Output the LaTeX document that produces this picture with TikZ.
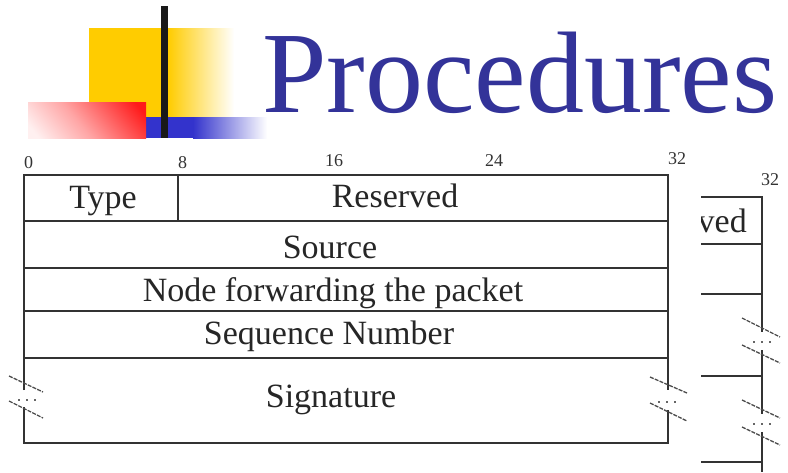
\documentclass[tikz,border=0pt]{standalone}
\usepackage{fontspec}
\setmainfont{Liberation Serif}
\definecolor{titleblue}{RGB}{51,51,153}
\definecolor{logoyellow}{RGB}{255,204,0}
\definecolor{logoblue}{RGB}{51,51,204}
\definecolor{logored}{RGB}{255,26,26}
\colorlet{logopink}{red!6}
\pgfdeclarehorizontalshading{redfade}{100bp}{color(0bp)=(logopink); color(20bp)=(logopink);
  color(45bp)=(red!35); color(80bp)=(logored); color(100bp)=(logored)}
\begin{document}
\begin{tikzpicture}[x=1pt,y=-1pt,
  rule/.style={draw=black!80, line width=1.8pt},
  field/.style={inner sep=0pt, anchor=base, text=black!85, font=\fontsize{34}{40}\selectfont},
  bitno/.style={inner sep=0pt, anchor=base west, text=black!80, font=\fontsize{18}{20}\selectfont},
  slash/.style={draw=black!70, line width=1.3pt, dash pattern=on 4pt off 1.2pt},
  dotrow/.style={draw=black!60, line width=2pt, dash pattern=on 2pt off 6pt}]
\useasboundingbox (0,0) rectangle (788,472);
\fill[white] (0,0) rectangle (788,472);

% ---- title logo ----
\fill[logoyellow] (89,28) rectangle (168,117);
\shade[left color=logoyellow, right color=white] (168,28) rectangle (234,117);
\fill[logoblue] (146,117) rectangle (193,138);
\shade[left color=logoblue, right color=white] (193,117) rectangle (267,138);
\shade[shading=redfade, shading angle=40] (28,102) rectangle (146,138);
\fill[black!90] (161,6) rectangle (168,138);

\node[inner sep=0pt, anchor=base west, text=titleblue, font=\fontsize{116}{120}\selectfont]
  (title) at (262,112) {Procedures};

% ---- bit positions ----
\node[bitno] (b0)  at (24,168)  {0};
\node[bitno] (b8)  at (178,168) {8};
\node[bitno] (b16) at (325,166) {16};
\node[bitno] (b24) at (485,166) {24};
\node[bitno] (b32) at (668,164) {32};

% ---- main packet layout ----
\draw[rule] (24,390) -- (24,175) -- (668,175) -- (668,390);
\draw[rule] (24,407) -- (24,443) -- (668,443) -- (668,410);
\foreach \yy in {221,268,311,358} \draw[rule] (24,\yy) -- (668,\yy);
\draw[rule] (178,175) -- (178,221);

\node[field] (type) at (103,208) {Type};
\node[field] (res)  at (395,207) {Reserved};
\node[field] (src)  at (330,258) {Source};
\node[field] (fwd)  at (333,301) {Node forwarding the packet};
\node[field] (seq)  at (329,344) {Sequence Number};
\node[field] (sig)  at (331,407) {Signature};

% break marks on the sides of the signature field
\draw[slash] (9,376) -- (43,392);
\draw[slash] (9,401) -- (43,418);
\draw[dotrow] (18,400) -- (38,400);
\draw[slash] (650,377) -- (687,393);
\draw[slash] (650,403) -- (687,421);
\draw[dotrow] (658,402) -- (678,402);

% ---- second layout, cut at its left side ----
\begin{scope}
  \clip (701,0) rectangle (788,472);
  \node[field] (res2) at (747,232) [anchor=base east] {Reserved};
  \foreach \yy in {197,244,294,376,462} \draw[rule] (690,\yy) -- (762,\yy);
  \draw[rule] (762,196) -- (762,332);
  \draw[rule] (762,350) -- (762,414);
  \draw[rule] (762,432) -- (762,472);
\end{scope}
\node[bitno] (b32b) at (761,185) {32};
\draw[slash] (742,318) -- (780,337);
\draw[slash] (742,345) -- (780,363);
\draw[dotrow] (753,342) -- (773,342);
\draw[slash] (742,400) -- (780,418);
\draw[slash] (742,427) -- (780,445);
\draw[dotrow] (753,424) -- (773,424);
\end{tikzpicture}
\end{document}
